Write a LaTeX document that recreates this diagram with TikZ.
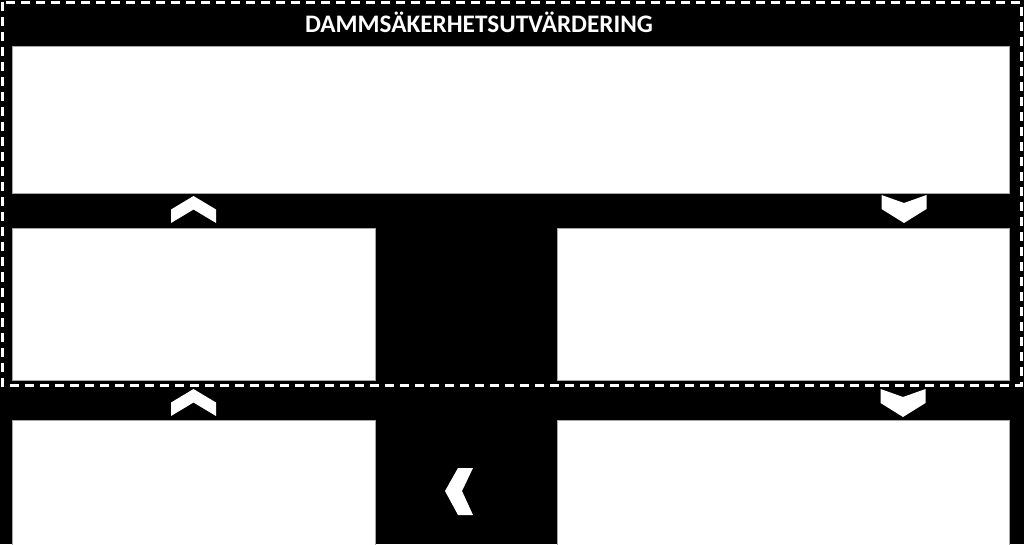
\documentclass[tikz,border=0pt]{standalone}
\usepackage{fontspec}
\setmainfont{Carlito}
\begin{document}
\begin{tikzpicture}[x=1pt,y=1pt,
  panel/.style={fill=white,draw=gray!70,line width=0.6pt,inner sep=0pt,anchor=north west},
  chev/.style={fill=white},
  dashframe/.style={draw=white,line width=3pt,dash pattern=on 9pt off 6pt}]
\useasboundingbox (0,0) rectangle (1024,544);
\fill[black] (0,0) rectangle (1024,544);
% panels
\node[panel,minimum width=997pt,minimum height=147pt] (top) at (12,498) {};
\node[panel,minimum width=363pt,minimum height=152pt] (midL) at (12,316) {};
\node[panel,minimum width=452pt,minimum height=152pt] (midR) at (557,316) {};
\node[panel,minimum width=363pt,minimum height=130pt] (botL) at (12,124) {};
\node[panel,minimum width=452pt,minimum height=130pt] (botR) at (557,124) {};
% title
\node[text=white,font=\bfseries\fontsize{25.2}{30}\selectfont,anchor=base,inner sep=0pt] (title) at (479,511) {DAMMSÄKERHETSUTVÄRDERING};
% dashed frame
\draw[dashframe] (2.5,541.5) rectangle (1021,159);
% up chevrons
\foreach \cx/\cy in {193.5/348, 193.5/155}{
  \fill[chev] (\cx,\cy) -- ++(22.5,-13.5) -- ++(0,-13.5) -- ++(-22.5,13.5) -- ++(-22.5,-13.5) -- ++(0,13.5) -- cycle;
}
% down chevrons
\foreach \cx/\cy in {904/349, 903/155}{
  \fill[chev] (\cx-22.5,\cy) -- (\cx,\cy-8) -- (\cx+22.5,\cy) -- (\cx+22.5,\cy-14) -- (\cx,\cy-28) -- (\cx-22.5,\cy-14) -- cycle;
}
% left chevron
\fill[chev] (458,76) -- (473,76) -- (462,53) -- (473,29) -- (458,29) -- (445,53) -- cycle;
\end{tikzpicture}
\end{document}
